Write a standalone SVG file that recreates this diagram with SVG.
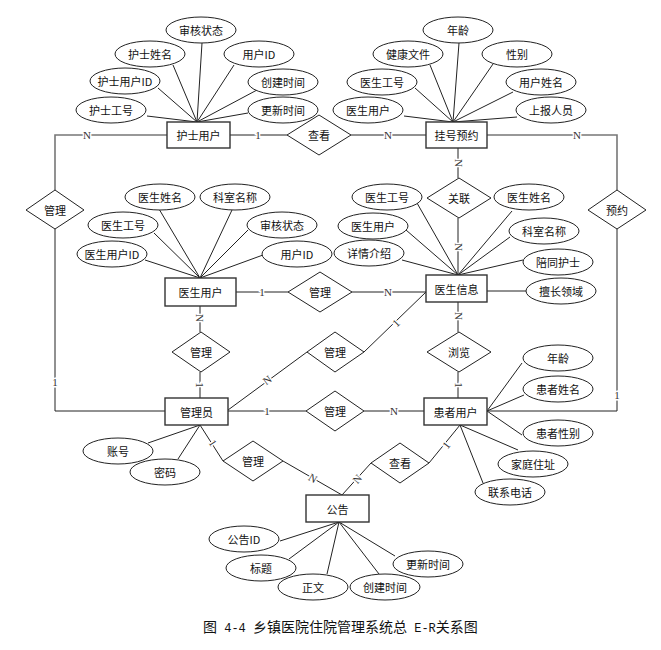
<svg xmlns="http://www.w3.org/2000/svg" width="661" height="650" viewBox="0 0 661 650">
<style>
text{font-family:"Noto Sans CJK SC","Liberation Sans",sans-serif;font-size:11px;fill:#111;text-anchor:middle;dominant-baseline:central}
.ent rect{fill:#fff;stroke:#333;stroke-width:1.4}
.att ellipse{fill:#fff;stroke:#222;stroke-width:1}
.rel polygon{fill:#fff;stroke:#222;stroke-width:1}
#connectors line,#connectors polyline{stroke:#222;stroke-width:1;fill:none}
#connectors .g{stroke:#777;stroke-width:1.6}
.lb{font-family:"Liberation Serif",serif;font-size:11px;fill:#333;paint-order:stroke;stroke:#fff;stroke-width:3px}
.cap{font-family:"Liberation Serif","Noto Sans CJK SC",serif;font-size:14px;text-anchor:start;dominant-baseline:auto}
.mono{font-family:"Liberation Mono",monospace;font-size:12px}
</style>
<g id="connectors">
<line x1="197" y1="122" x2="147" y2="116"/>
<line x1="197" y1="122" x2="158" y2="88"/>
<line x1="197" y1="122" x2="173" y2="65"/>
<line x1="197" y1="122" x2="202" y2="43"/>
<line x1="197" y1="122" x2="234" y2="65"/>
<line x1="197" y1="122" x2="257" y2="90"/>
<line x1="197" y1="122" x2="248" y2="113"/>
<line x1="453" y1="122" x2="404" y2="116"/>
<line x1="453" y1="122" x2="415" y2="88"/>
<line x1="453" y1="122" x2="430" y2="65"/>
<line x1="453" y1="122" x2="459" y2="43"/>
<line x1="453" y1="122" x2="493" y2="64"/>
<line x1="453" y1="122" x2="513" y2="92"/>
<line x1="453" y1="122" x2="517" y2="117"/>
<line x1="200" y1="278" x2="145" y2="260"/>
<line x1="200" y1="278" x2="154" y2="233"/>
<line x1="200" y1="278" x2="159" y2="209"/>
<line x1="200" y1="278" x2="232" y2="210"/>
<line x1="200" y1="278" x2="248" y2="230"/>
<line x1="200" y1="278" x2="263" y2="255"/>
<line x1="458" y1="275" x2="402" y2="260"/>
<line x1="458" y1="275" x2="406" y2="230"/>
<line x1="458" y1="275" x2="417" y2="203"/>
<line x1="458" y1="275" x2="512" y2="211"/>
<line x1="458" y1="275" x2="510" y2="237"/>
<line x1="458" y1="275" x2="523" y2="260"/>
<line x1="487" y1="291" x2="526" y2="291"/>
<line x1="487" y1="411" x2="522" y2="363"/>
<line x1="487" y1="411" x2="524" y2="395"/>
<line x1="487" y1="411" x2="522" y2="435"/>
<line x1="460" y1="425" x2="518" y2="450"/>
<line x1="460" y1="425" x2="483" y2="483"/>
<line x1="200" y1="425" x2="148" y2="443"/>
<line x1="200" y1="425" x2="178" y2="459"/>
<line x1="339" y1="522" x2="280" y2="541"/>
<line x1="339" y1="522" x2="289" y2="559"/>
<line x1="339" y1="522" x2="327" y2="574"/>
<line x1="339" y1="522" x2="379" y2="574"/>
<line x1="339" y1="522" x2="395" y2="556"/>
<polyline class="g" points="167,135 55,135 55,190"/>
<polyline points="55,229 55,411 165,411"/>
<line x1="230" y1="135" x2="287" y2="135"/>
<line x1="351" y1="135" x2="426" y2="135"/>
<polyline class="g" points="487,135 617,135 617,190"/>
<polyline points="617,229 617,411 487,411"/>
<line x1="458" y1="148" x2="458" y2="178"/>
<line x1="458" y1="218" x2="458" y2="275"/>
<line x1="236" y1="292" x2="288" y2="292"/>
<line x1="352" y1="292" x2="426" y2="292"/>
<line x1="200" y1="306" x2="200" y2="332"/>
<line x1="200" y1="372" x2="200" y2="398"/>
<line x1="228" y1="410" x2="307" y2="352"/>
<line x1="364" y1="352" x2="426" y2="292"/>
<line x1="458" y1="302" x2="458" y2="332"/>
<line x1="458" y1="372" x2="458" y2="398"/>
<line x1="228" y1="411" x2="306" y2="411"/>
<line x1="364" y1="411" x2="424" y2="411"/>
<line x1="200" y1="425" x2="223" y2="461"/>
<line x1="283" y1="461" x2="342" y2="495"/>
<line x1="371" y1="463" x2="342" y2="495"/>
<line x1="429" y1="463" x2="460" y2="425"/>
<text class="lb" x="87" y="135">N</text>
<text class="lb" x="55" y="382">1</text>
<text class="lb" x="258" y="135">1</text>
<text class="lb" x="388" y="135">N</text>
<text class="lb" x="577" y="135">N</text>
<text class="lb" x="617" y="395">1</text>
<text class="lb" transform="translate(459,163) rotate(90)">N</text>
<text class="lb" transform="translate(459,247) rotate(90)">N</text>
<text class="lb" x="262" y="292">1</text>
<text class="lb" x="388" y="292">N</text>
<text class="lb" transform="translate(200,318) rotate(90)">N</text>
<text class="lb" transform="translate(200,385) rotate(90)">1</text>
<text class="lb" transform="translate(267,380) rotate(-36)">N</text>
<text class="lb" transform="translate(396,323) rotate(-44)">1</text>
<text class="lb" transform="translate(459,316) rotate(90)">N</text>
<text class="lb" transform="translate(459,385) rotate(90)">1</text>
<text class="lb" x="267" y="411">1</text>
<text class="lb" x="394" y="411">N</text>
<text class="lb" transform="translate(213,443) rotate(57)">1</text>
<text class="lb" transform="translate(313,478) rotate(30)">N</text>
<text class="lb" transform="translate(357,479) rotate(-49)">N</text>
<text class="lb" transform="translate(446,445) rotate(-51)">1</text>
</g>

<g id="nurse" class="ent"><rect x="167" y="122" width="63" height="26"/><text x="198.5" y="135">护士用户</text></g>
<g id="appointment" class="ent"><rect x="426" y="122" width="61" height="26"/><text x="456.5" y="135">挂号预约</text></g>
<g id="doctor" class="ent"><rect x="165" y="278" width="71" height="28"/><text x="200.5" y="292">医生用户</text></g>
<g id="doctorinfo" class="ent"><rect x="426" y="275" width="61" height="27"/><text x="456.5" y="288.5">医生信息</text></g>
<g id="admin" class="ent"><rect x="165" y="398" width="63" height="27"/><text x="196.5" y="411.5">管理员</text></g>
<g id="patient" class="ent"><rect x="424" y="398" width="63" height="27"/><text x="455.5" y="411.5">患者用户</text></g>
<g id="notice" class="ent"><rect x="306" y="495" width="63" height="27"/><text x="337.5" y="508.5">公告</text></g>

<g id="rel-view1" class="rel"><polygon points="287,135 319,115 351,135 319,155"/><text x="319" y="135">查看</text></g>
<g id="rel-manage-left" class="rel"><polygon points="26,210 55,190 84,210 55,229"/><text x="55" y="210">管理</text></g>
<g id="rel-assoc" class="rel"><polygon points="427,198 459,178 491,198 459,218"/><text x="459" y="198">关联</text></g>
<g id="rel-book" class="rel"><polygon points="588,210 617,190 646,210 617,229"/><text x="617" y="210">预约</text></g>
<g id="rel-manage-doc" class="rel"><polygon points="288,292 320,272 352,292 320,312"/><text x="320" y="292">管理</text></g>
<g id="rel-manage-docuser" class="rel"><polygon points="172,352 201,332 230,352 201,372"/><text x="201" y="352">管理</text></g>
<g id="rel-manage-info" class="rel"><polygon points="307,352 335,332 364,352 335,372"/><text x="335" y="352">管理</text></g>
<g id="rel-browse" class="rel"><polygon points="427,352 459,332 491,352 459,372"/><text x="459" y="352">浏览</text></g>
<g id="rel-manage-patient" class="rel"><polygon points="306,411 335,391 364,411 335,431"/><text x="335" y="411">管理</text></g>
<g id="rel-manage-notice" class="rel"><polygon points="223,461 253,441 283,461 253,481"/><text x="253" y="461">管理</text></g>
<g id="rel-view2" class="rel"><polygon points="371,463 400,443 429,463 400,483"/><text x="400" y="463">查看</text></g>

<g id="a-n-status" class="att"><ellipse cx="201" cy="30" rx="35" ry="13"/><text x="201" y="30">审核状态</text></g>
<g id="a-n-name" class="att"><ellipse cx="150" cy="54" rx="35" ry="13"/><text x="150" y="54">护士姓名</text></g>
<g id="a-n-uid" class="att"><ellipse cx="259" cy="54" rx="35" ry="13"/><text x="259" y="54">用户ID</text></g>
<g id="a-n-id" class="att"><ellipse cx="125" cy="81" rx="35" ry="13"/><text x="125" y="81">护士用户ID</text></g>
<g id="a-n-ctime" class="att"><ellipse cx="283" cy="82" rx="35" ry="13"/><text x="283" y="82">创建时间</text></g>
<g id="a-n-no" class="att"><ellipse cx="111" cy="110" rx="35" ry="13"/><text x="111" y="110">护士工号</text></g>
<g id="a-n-utime" class="att"><ellipse cx="283" cy="110" rx="35" ry="13"/><text x="283" y="110">更新时间</text></g>

<g id="a-a-age" class="att"><ellipse cx="458" cy="30" rx="35" ry="13"/><text x="458" y="30">年龄</text></g>
<g id="a-a-file" class="att"><ellipse cx="408" cy="54" rx="35" ry="13"/><text x="408" y="54">健康文件</text></g>
<g id="a-a-sex" class="att"><ellipse cx="517" cy="54" rx="35" ry="13"/><text x="517" y="54">性别</text></g>
<g id="a-a-docno" class="att"><ellipse cx="382" cy="82" rx="35" ry="13"/><text x="382" y="82">医生工号</text></g>
<g id="a-a-uname" class="att"><ellipse cx="541" cy="82" rx="35" ry="13"/><text x="541" y="82">用户姓名</text></g>
<g id="a-a-doc" class="att"><ellipse cx="368" cy="110" rx="35" ry="13"/><text x="368" y="110">医生用户</text></g>
<g id="a-a-rep" class="att"><ellipse cx="551" cy="110" rx="35" ry="13"/><text x="551" y="110">上报人员</text></g>

<g id="a-d-name" class="att"><ellipse cx="160" cy="197" rx="35" ry="13"/><text x="160" y="197">医生姓名</text></g>
<g id="a-d-dept" class="att"><ellipse cx="235" cy="197" rx="35" ry="13"/><text x="235" y="197">科室名称</text></g>
<g id="a-d-no" class="att"><ellipse cx="123" cy="225" rx="35" ry="13"/><text x="123" y="225">医生工号</text></g>
<g id="a-d-status" class="att"><ellipse cx="282" cy="225" rx="35" ry="13"/><text x="282" y="225">审核状态</text></g>
<g id="a-d-id" class="att"><ellipse cx="112" cy="254" rx="35" ry="13"/><text x="112" y="254">医生用户ID</text></g>
<g id="a-d-uid" class="att"><ellipse cx="297" cy="254" rx="35" ry="13"/><text x="297" y="254">用户ID</text></g>

<g id="a-i-no" class="att"><ellipse cx="387" cy="197" rx="35" ry="13"/><text x="387" y="197">医生工号</text></g>
<g id="a-i-name" class="att"><ellipse cx="529" cy="197" rx="35" ry="13"/><text x="529" y="197">医生姓名</text></g>
<g id="a-i-doc" class="att"><ellipse cx="373" cy="226" rx="35" ry="13"/><text x="373" y="226">医生用户</text></g>
<g id="a-i-dept" class="att"><ellipse cx="544" cy="231" rx="35" ry="13"/><text x="544" y="231">科室名称</text></g>
<g id="a-i-detail" class="att"><ellipse cx="369" cy="253" rx="35" ry="13"/><text x="369" y="253">详情介绍</text></g>
<g id="a-i-nurse" class="att"><ellipse cx="558" cy="262" rx="35" ry="13"/><text x="558" y="262">陪同护士</text></g>
<g id="a-i-field" class="att"><ellipse cx="561" cy="291" rx="35" ry="13"/><text x="561" y="291">擅长领域</text></g>

<g id="a-p-age" class="att"><ellipse cx="558" cy="358" rx="35" ry="13"/><text x="558" y="358">年龄</text></g>
<g id="a-p-name" class="att"><ellipse cx="558" cy="389" rx="35" ry="13"/><text x="558" y="389">患者姓名</text></g>
<g id="a-p-sex" class="att"><ellipse cx="558" cy="433" rx="35" ry="13"/><text x="558" y="433">患者性别</text></g>
<g id="a-p-addr" class="att"><ellipse cx="533" cy="464" rx="35" ry="13"/><text x="533" y="464">家庭住址</text></g>
<g id="a-p-tel" class="att"><ellipse cx="510" cy="492" rx="35" ry="13"/><text x="510" y="492">联系电话</text></g>

<g id="a-m-acc" class="att"><ellipse cx="118" cy="451" rx="35" ry="13"/><text x="118" y="451">账号</text></g>
<g id="a-m-pwd" class="att"><ellipse cx="165" cy="472" rx="35" ry="13"/><text x="165" y="472">密码</text></g>

<g id="a-g-id" class="att"><ellipse cx="244" cy="539" rx="35" ry="13"/><text x="244" y="539">公告ID</text></g>
<g id="a-g-title" class="att"><ellipse cx="261" cy="568" rx="35" ry="13"/><text x="261" y="568">标题</text></g>
<g id="a-g-body" class="att"><ellipse cx="313" cy="587" rx="35" ry="13"/><text x="313" y="587">正文</text></g>
<g id="a-g-ctime" class="att"><ellipse cx="385" cy="587" rx="35" ry="13"/><text x="385" y="587">创建时间</text></g>
<g id="a-g-utime" class="att"><ellipse cx="428" cy="564" rx="35" ry="13"/><text x="428" y="564">更新时间</text></g>

<text class="cap" x="203" y="632">图<tspan class="mono"> 4-4 </tspan>乡镇医院住院管理系统总<tspan class="mono"> E-R</tspan>关系图</text>
</svg>
